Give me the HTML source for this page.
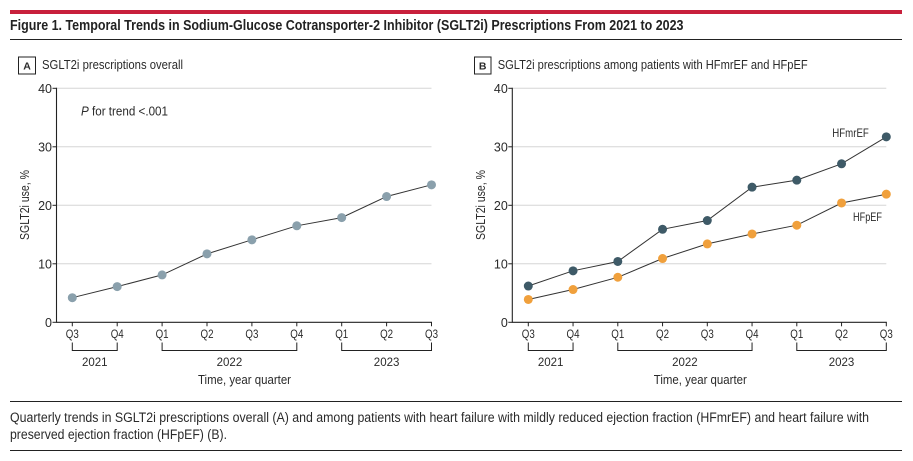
<!DOCTYPE html>
<html lang="en">
<head>
<meta charset="utf-8">
<title>Figure 1. SGLT2i Prescriptions</title>
<style>
html,body{margin:0;padding:0;background:#fff;width:913px;height:461px;overflow:hidden}
svg{display:block;font-family:"Liberation Sans",sans-serif;fill:#2a2a2a}
</style>
</head>
<body>
<svg id="fig" width="913" height="461" viewBox="0 0 913 461" xmlns="http://www.w3.org/2000/svg">
  <rect x="10" y="10" width="892" height="4" fill="#c8203c"/>
  <text x="10" y="30" font-size="14.5" font-weight="bold" fill="#222" textLength="673.5" lengthAdjust="spacingAndGlyphs">Figure 1. Temporal Trends in Sodium-Glucose Cotransporter-2 Inhibitor (SGLT2i) Prescriptions From 2021 to 2023</text>
  <line x1="10" x2="902" y1="39.5" y2="39.5" stroke="#222" stroke-width="1"/>

  <rect x="18.5" y="57" width="17" height="17" fill="none" stroke="#222" stroke-width="1"/>
  <text x="27" y="69.5" font-size="10.5" font-weight="bold" text-anchor="middle">A</text>
  <text x="42" y="69" font-size="13" textLength="141" lengthAdjust="spacingAndGlyphs">SGLT2i prescriptions overall</text>
  <text x="81" y="115.5" font-size="13" textLength="87" lengthAdjust="spacingAndGlyphs"><tspan font-style="italic">P</tspan> for trend &lt;.001</text>

  <rect x="474.5" y="57" width="16.5" height="17" fill="none" stroke="#222" stroke-width="1"/>
  <text x="482.7" y="69.5" font-size="10.5" font-weight="bold" text-anchor="middle">B</text>
  <text x="497.7" y="69" font-size="13" textLength="310" lengthAdjust="spacingAndGlyphs">SGLT2i prescriptions among patients with HFmrEF and HFpEF</text>
  <text x="832.3" y="137" font-size="12" textLength="36.5" lengthAdjust="spacingAndGlyphs">HFmrEF</text>
  <text x="853" y="221" font-size="12" textLength="29" lengthAdjust="spacingAndGlyphs">HFpEF</text>

  <line x1="10" x2="902" y1="401.5" y2="401.5" stroke="#222" stroke-width="1"/>
  <text x="10" y="422" font-size="13.5" textLength="859" lengthAdjust="spacingAndGlyphs">Quarterly trends in SGLT2i prescriptions overall (A) and among patients with heart failure with mildly reduced ejection fraction (HFmrEF) and heart failure with</text>
  <text x="10" y="439" font-size="13.5" textLength="217" lengthAdjust="spacingAndGlyphs">preserved ejection fraction (HFpEF) (B).</text>
  <line x1="10" x2="902" y1="450.5" y2="450.5" stroke="#222" stroke-width="1"/>
</svg>
<script>
var quarters = ['Q3', 'Q4', 'Q1', 'Q2', 'Q3', 'Q4', 'Q1', 'Q2', 'Q3'];
var yTicks = [0, 10, 20, 30, 40];
var yearLabels = ['2021', '2022', '2023'];
var yearStartIndex = [0, 2, 6];
var yearEndIndex = [1, 5, 8];
var overallValues = [4.2, 6.1, 8.1, 11.7, 14.1, 16.5, 17.9, 21.5, 23.5];
var hfmrefValues = [6.2, 8.8, 10.4, 15.9, 17.4, 23.1, 24.3, 27.1, 31.7];
var hfpefValues = [3.9, 5.6, 7.7, 10.9, 13.4, 15.1, 16.6, 20.4, 21.9];

var svg = document.getElementById('fig');
var NS = 'http://www.w3.org/2000/svg';

function make(tag, attrs, text) {
  var el = document.createElementNS(NS, tag);
  for (var k in attrs) el.setAttribute(k, attrs[k]);
  if (text !== undefined) el.textContent = text;
  svg.appendChild(el);
  return el;
}

function drawPanel(p, x0, step, axisX, seriesList) {
  var yBase = 322.3, yPerUnit = 5.85, el;
  function xScale(i) { return x0 + i * step; }
  function yScale(v) { return yBase - v * yPerUnit; }
  var xEnd = xScale(quarters.length - 1);

  yTicks.forEach(function (t) {
    if (t > 0) {
      el = make('line', {x1: axisX, x2: xEnd, y1: yScale(t), y2: yScale(t), stroke: '#d6d6d6', 'stroke-width': 1});
      
      
    }
    el = make('line', {x1: axisX - 4, x2: axisX, y1: yScale(t), y2: yScale(t), stroke: '#222', 'stroke-width': 1});
    
    
    el = make('text', {x: axisX - 4.5, y: yScale(t) + 4.5, 'font-size': 12.5, 'text-anchor': 'end'}, String(t));
    
    
  });

  el = make('line', {x1: axisX, x2: axisX, y1: yScale(40) - 0.5, y2: yBase + 0.5, stroke: '#222', 'stroke-width': 1.1});
  
  
  el = make('line', {x1: axisX, x2: xEnd + 0.5, y1: yBase, y2: yBase, stroke: '#222', 'stroke-width': 1.1});
  
  

  quarters.forEach(function (q, i) {
    el = make('text', {x: xScale(i), y: 338, 'font-size': 12, 'text-anchor': 'middle', textLength: 13, lengthAdjust: 'spacingAndGlyphs'}, q);
    
    
    el = make('line', {x1: xScale(i), x2: xScale(i), y1: yBase, y2: yBase + 4, stroke: '#222', 'stroke-width': 1});
    
    
  });

  yearLabels.forEach(function (y, j) {
    var a = xScale(yearStartIndex[j]), b = xScale(yearEndIndex[j]);
    el = make('path', {d: 'M' + a + ' 342.5V350.5H' + b + 'V342.5', fill: 'none', stroke: '#222', 'stroke-width': 1});
    
    
    el = make('text', {x: (a + b) / 2, y: 366, 'font-size': 11.5, 'text-anchor': 'middle'}, y);
    
    
  });

  el = make('text', {x: axisX + 188, y: 384, 'font-size': 13, 'text-anchor': 'middle', textLength: 93, lengthAdjust: 'spacingAndGlyphs'}, 'Time, year quarter');
  
  

  var ax = axisX - 27.5, ay = 205;
  el = make('text', {x: ax, y: ay, 'font-size': 13, 'text-anchor': 'middle', textLength: 70, lengthAdjust: 'spacingAndGlyphs', transform: 'rotate(-90 ' + ax + ' ' + ay + ')'}, 'SGLT2i use, %');
  
  

  seriesList.forEach(function (s) {
    var pts = s.values.map(function (v, i) { return xScale(i).toFixed(1) + ',' + yScale(v).toFixed(1); }).join(' ');
    el = make('polyline', {points: pts, fill: 'none', stroke: '#333', 'stroke-width': 1});
    
    
    s.values.forEach(function (v, i) {
      el = make('circle', {cx: xScale(i), cy: yScale(v), r: 4.5, fill: s.color});
      
      
    });
  });
}

drawPanel('panel-a', 72.3, 44.9, 56.5, [
  {name: 'overall', values: overallValues, color: '#8aa0ac'}
]);
drawPanel('panel-b', 528.3, 44.75, 512.3, [
  {name: 'hfmref', values: hfmrefValues, color: '#3e5a67'},
  {name: 'hfpef', values: hfpefValues, color: '#f0a03c'}
]);
</script>
</body>
</html>
